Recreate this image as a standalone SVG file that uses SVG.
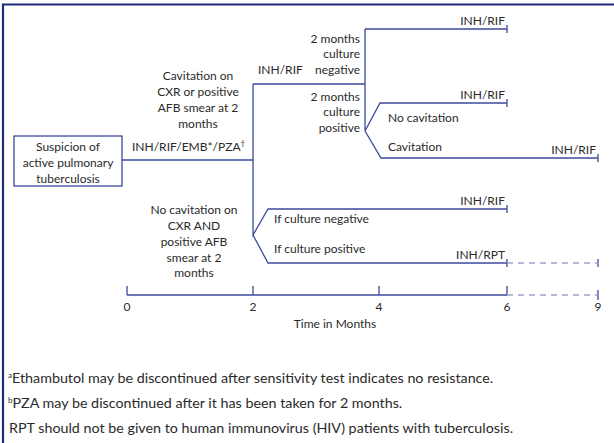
<svg xmlns="http://www.w3.org/2000/svg" width="614" height="443" viewBox="0 0 614 443">
<style>
text{font-family:Lato,"Liberation Sans",sans-serif;font-size:12px;fill:#2a2a2a}
.m{text-anchor:middle}
.e{text-anchor:end}
.fn{font-size:14.3px}
.ln{stroke:#3d4a9c;stroke-width:1.3;fill:none}
.ds{stroke:#9aa0cf;stroke-width:1.3;fill:none;stroke-dasharray:6 5}
.sup{font-size:8px}
</style>
<rect width="614" height="443" fill="#fff"/>
<path d="M3 443V4.5H614" fill="none" stroke="#1f2b7c" stroke-width="2.2"/>

<g id="start">
<rect x="14" y="136" width="108" height="50" fill="#fff" stroke="#3d4a9c" stroke-width="1.3"/>
<text class="m" x="68" y="151">Suspicion of</text>
<text class="m" x="68" y="167">active pulmonary</text>
<text class="m" x="68" y="183">tuberculosis</text>
</g>

<g id="connectors">
<path class="ln" d="M122 160H253M253 84V235L268 209H507M253 235L268 263H507"/>
<path class="ln" d="M253 84H365M365 29H507M365 29V131L380 103H507M365 131L381 158H598"/>
<path class="ln" d="M507 25V33M507 99V107M598 154V162M507 205V213M507 259V267M598 259V267"/>
<path class="ds" d="M507 263H598"/>
</g>

<g id="axis">
<path class="ln" d="M127 295H507M127 286V295M253 286V295M379 286V295M507 286V295M598 290V300"/>
<path class="ds" d="M507 295H598"/>
<text class="m" x="127" y="311">0</text>
<text class="m" x="253" y="311">2</text>
<text class="m" x="379" y="311">4</text>
<text class="m" x="507" y="311">6</text>
<text class="m" x="598" y="311">9</text>
<text class="m" x="335" y="328">Time in Months</text>
</g>

<g id="cavitation">
<text class="m" x="198" y="80">Cavitation on</text>
<text class="m" x="198" y="96">CXR or positive</text>
<text class="m" x="198" y="112">AFB smear at 2</text>
<text class="m" x="198" y="128">months</text>
<text x="132" y="151">INH/RIF/EMB*/PZA<tspan class="sup" dy="-5">†</tspan></text>
</g>

<g id="nocavitation">
<text class="m" x="194" y="214">No cavitation on</text>
<text class="m" x="194" y="230">CXR AND</text>
<text class="m" x="194" y="246">positive AFB</text>
<text class="m" x="194" y="262">smear at 2</text>
<text class="m" x="194" y="277">months</text>
</g>

<g id="inhrif2">
<text x="258" y="74">INH/RIF</text>
</g>

<g id="culneg">
<text class="e" x="360" y="43">2 months</text>
<text class="e" x="360" y="58">culture</text>
<text class="e" x="360" y="74">negative</text>
<text class="e" x="505" y="25">INH/RIF</text>
</g>

<g id="culpos">
<text class="e" x="360" y="101">2 months</text>
<text class="e" x="360" y="116">culture</text>
<text class="e" x="360" y="132">positive</text>
<text class="e" x="505" y="99">INH/RIF</text>
<text x="388" y="122">No cavitation</text>
<text x="388" y="151">Cavitation</text>
<text class="e" x="596" y="154">INH/RIF</text>
</g>

<g id="ifculture">
<text class="e" x="505" y="205">INH/RIF</text>
<text x="274" y="223">If culture negative</text>
<text x="274" y="253">If culture positive</text>
<text class="e" x="505" y="259">INH/RPT</text>
</g>

<g id="notes">
<text class="fn" x="8" y="383"><tspan class="sup" dy="-5">a</tspan><tspan dy="5">Ethambutol may be discontinued after sensitivity test indicates no resistance.</tspan></text>
<text class="fn" x="8" y="408"><tspan class="sup" dy="-5">b</tspan><tspan dy="5">PZA may be discontinued after it has been taken for 2 months.</tspan></text>
<text class="fn" x="9" y="433">RPT should not be given to human immunovirus (HIV) patients with tuberculosis.</text>
</g>
</svg>
